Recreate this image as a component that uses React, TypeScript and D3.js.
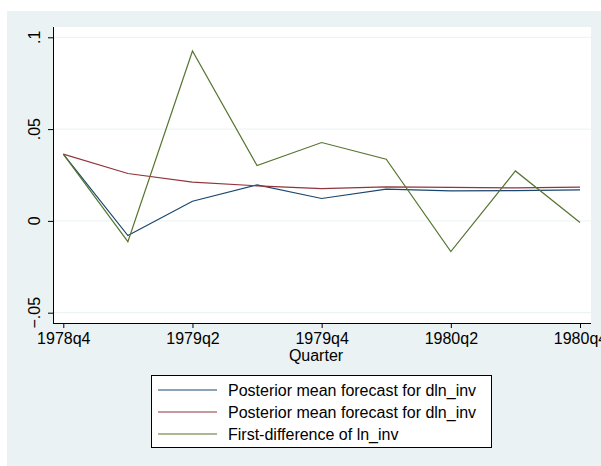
import * as d3 from "d3";
import React from "react";

// quarters 1978q4 .. 1980q4
const quarters = ["1978q4", "1979q1", "1979q2", "1979q3", "1979q4", "1980q1", "1980q2", "1980q3", "1980q4"];
const tickQuarters = ["1978q4", "1979q2", "1979q4", "1980q2", "1980q4"];
const yTicks = [-0.05, 0, 0.05, 0.1];

const meanForecastA = [0.0364, -0.008, 0.0107, 0.0196, 0.0122, 0.0173, 0.0164, 0.0165, 0.0169];
const meanForecastB = [0.0364, 0.0258, 0.0211, 0.0191, 0.0176, 0.0185, 0.0183, 0.018, 0.0184];
const firstDiff = [0.0364, -0.0113, 0.0925, 0.0301, 0.0427, 0.0336, -0.0167, 0.0272, -0.0009];

const seriesNames = [
  "Posterior mean forecast for dln_inv",
  "Posterior mean forecast for dln_inv",
  "First-difference of ln_inv",
];
const seriesColors = ["#1a476f", "#90353b", "#55752f"];

const App = () => {
  const ref = React.useRef<SVGSVGElement>(null);
  React.useEffect(() => {
    const svg = d3.select(ref.current);
    svg.selectAll("*").remove();
    const font = "Liberation Sans, Arial, sans-serif";
    const fs = 16;

    svg.append("rect").attr("x", 7).attr("y", 11).attr("width", 594).attr("height", 455).attr("fill", "#eaf2f3");

    const plot = { left: 53, right: 591, top: 27, bottom: 323 };
    svg
      .append("rect")
      .attr("x", plot.left)
      .attr("y", plot.top)
      .attr("width", plot.right - plot.left)
      .attr("height", plot.bottom - plot.top)
      .attr("fill", "white");

    const x = d3.scalePoint().domain(quarters).range([63.3, 580]);
    const y = d3.scaleLinear().domain([-0.05, 0.1]).range([312.7, 37.3]);

    // grid
    svg
      .append("g")
      .selectAll("line")
      .data(yTicks)
      .enter()
      .append("line")
      .attr("x1", plot.left)
      .attr("x2", plot.right)
      .attr("y1", (d) => y(d))
      .attr("y2", (d) => y(d))
      .attr("stroke", "#eaf2f3")
      .attr("stroke-width", 1);

    const fmt = (d: number) => (d === 0 ? "0" : d3.format(".2~f")(d).replace("0.", "."));

    const yAxis = svg
      .append("g")
      .attr("transform", "translate(" + plot.left + ",0)")
      .call(d3.axisLeft(y).tickValues(yTicks).tickSize(5).tickSizeOuter(0).tickFormat((d) => ""));
    yAxis.select(".domain").attr("d", `M0.5,${plot.top}V${plot.bottom}`).attr("stroke", "black");
    yAxis.selectAll(".tick line").attr("stroke", "black");

    svg
      .append("g")
      .selectAll("text")
      .data(yTicks)
      .enter()
      .append("text")
      .attr("transform", (d) => `translate(40,${y(d)}) rotate(-90)`)
      .attr("text-anchor", "middle")
      .attr("font-family", font)
      .attr("font-size", fs)
      .text((d) => fmt(d));

    const xAxis = svg
      .append("g")
      .attr("transform", "translate(0," + plot.bottom + ")")
      .call(d3.axisBottom(x).tickValues(tickQuarters).tickSize(5).tickSizeOuter(0));
    xAxis.select(".domain").attr("d", `M${plot.left},0.5H${plot.right}`).attr("stroke", "black");
    xAxis.selectAll(".tick line").attr("stroke", "black");
    xAxis
      .selectAll(".tick text")
      .attr("font-family", font)
      .attr("font-size", fs)
      .attr("fill", "black")
      .attr("dy", null)
      .attr("y", 21);

    svg
      .append("text")
      .attr("x", 316)
      .attr("y", 361)
      .attr("text-anchor", "middle")
      .attr("font-family", font)
      .attr("font-size", fs)
      .text("Quarter");

    const line = d3
      .line<number>()
      .x((d, i) => x(quarters[i])!)
      .y((d) => y(d));

    [meanForecastA, meanForecastB, firstDiff].forEach((vals, i) => {
      svg
        .append("path")
        .datum(vals)
        .attr("d", line)
        .attr("fill", "none")
        .attr("stroke", seriesColors[i])
        .attr("stroke-width", 1.2);
    });

    // legend
    const lg = svg.append("g");
    lg.append("rect")
      .attr("x", 151.5)
      .attr("y", 375.5)
      .attr("width", 340)
      .attr("height", 72)
      .attr("fill", "white")
      .attr("stroke", "black");
    seriesNames.forEach((name, i) => {
      const cy = 390 + i * 22;
      lg.append("line")
        .attr("x1", 158)
        .attr("x2", 217)
        .attr("y1", cy)
        .attr("y2", cy)
        .attr("stroke", seriesColors[i])
        .attr("stroke-width", 1.2);
      lg.append("text")
        .attr("x", 228)
        .attr("y", cy + 6)
        .attr("font-family", font)
        .attr("font-size", fs)
        .text(name);
    });
  }, []);

  return (
    <svg
      ref={ref}
      width={601}
      height={466}
      style={{ position: "fixed", left: 0, top: 0, background: "white" }}
    ></svg>
  );
};

export default App;
